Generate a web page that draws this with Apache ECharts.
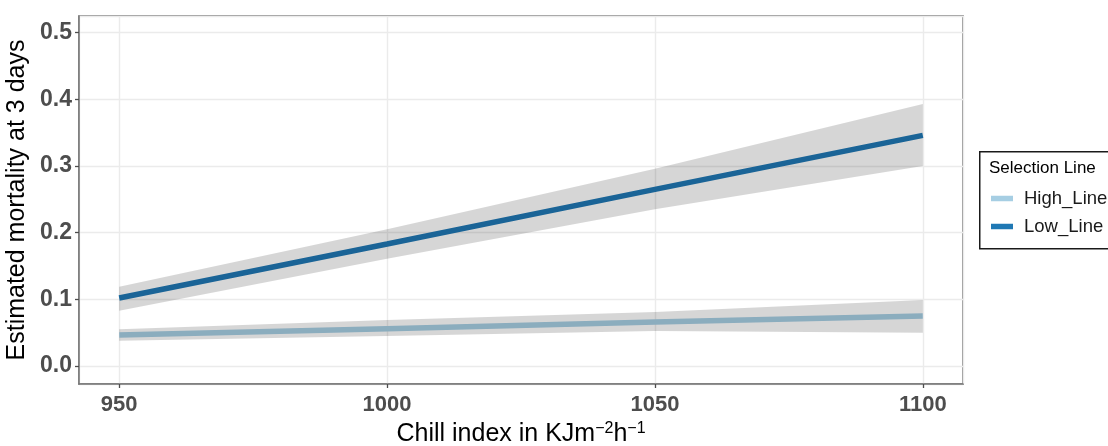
<!DOCTYPE html>
<html>
<head>
<meta charset="utf-8">
<script src="https://cdn.jsdelivr.net/npm/echarts@6/dist/echarts.min.js"></script>
<style>
  html, body { margin: 0; padding: 0; background: #fff; }
  #chart { width: 1108px; height: 446px; }
</style>
</head>
<body>
<div id="chart"></div>
<script>
// Chill index values at which the fitted mortality is shown
const chill = [950, 1000, 1050, 1100];

// Fitted mortality and confidence band, low selection line
const lowFit   = [0.102, 0.183, 0.265, 0.346];
const lowLower = [0.083, 0.161, 0.235, 0.300];
const lowUpper = [0.119, 0.205, 0.296, 0.393];

// Fitted mortality and confidence band, high selection line
const highFit   = [0.0465, 0.056, 0.066, 0.075];
const highLower = [0.038, 0.045, 0.0525, 0.050];
const highUpper = [0.055, 0.069, 0.081, 0.099];

const seriesNames = ['High_Line', 'Low_Line'];
const legendTitle = 'Selection Line';

const FONT = 'Liberation Sans, Arial, sans-serif';
const pairs = (ys) => chill.map((x, i) => [x, ys[i]]);

// Confidence ribbon drawn as one polygon: upper edge left→right, lower edge right→left
function ribbon(id, lo, hi) {
  const rows = chill.map((x, i) => [x, lo[i], hi[i]]);
  return {
    name: id + '_band', type: 'custom', silent: true, z: 5,
    data: rows,
    encode: { x: 0, y: [1, 2] },
    renderItem: (params, api) => {
      if (params.dataIndex !== 0) return null;
      const top = rows.map(r => api.coord([r[0], r[2]]));
      const bottom = rows.map(r => api.coord([r[0], r[1]])).reverse();
      return {
        type: 'polygon',
        shape: { points: top.concat(bottom) },
        style: { fill: 'rgba(0,0,0,0.16)', stroke: null }
      };
    }
  };
}

const chart = echarts.init(document.getElementById('chart'), null, { renderer: 'canvas' });

chart.setOption({
  animation: false,
  backgroundColor: '#ffffff',
  grid: {
    left: 79, right: 145, top: 16, bottom: 62,
    outerBoundsMode: 'none', containLabel: false,
    show: true, borderColor: '#737373', borderWidth: 1.5, backgroundColor: '#fff'
  },
  xAxis: {
    type: 'value', min: 942.5, max: 1107.5, splitNumber: 3,
    axisLine: { show: true, onZero: false, lineStyle: { color: '#737373', width: 1.5 } },
    axisTick: { show: true, length: 4, lineStyle: { color: '#4d4d4d', width: 1.3 } },
    axisLabel: {
      showMinLabel: false, showMaxLabel: false, margin: 10,
      color: '#4d4d4d', fontSize: 22, fontWeight: 'bold', fontFamily: FONT,
      formatter: (v) => String(v)
    },
    splitLine: { show: true, lineStyle: { color: '#ebebeb', width: 1.4 } },
    name: '{n|Chill index in KJm}{s|\u22122}{n|h}{s|\u22121}',
    nameLocation: 'middle', nameGap: 35,
    nameTextStyle: {
      color: '#000', fontFamily: FONT,
      rich: {
        n: { fontSize: 25, fontFamily: FONT, color: '#000', lineHeight: 26 },
        s: { fontSize: 16, fontFamily: FONT, color: '#000', verticalAlign: 'top', lineHeight: 10 }
      }
    }
  },
  yAxis: {
    type: 'value', min: -0.027, max: 0.525,
    axisLine: { show: true, onZero: false, lineStyle: { color: '#737373', width: 1.5 } },
    axisTick: { show: true, length: 4, lineStyle: { color: '#4d4d4d', width: 1.3 } },
    axisLabel: {
      showMinLabel: false, showMaxLabel: false, margin: 7,
      color: '#4d4d4d', fontSize: 23, fontWeight: 'bold', fontFamily: FONT,
      formatter: (v) => v.toFixed(1)
    },
    splitLine: { show: true, lineStyle: { color: '#ebebeb', width: 1.4 } },
    name: 'Estimated mortality at 3 days',
    nameLocation: 'middle', nameGap: 43,
    nameTextStyle: { color: '#000', fontSize: 25, fontFamily: FONT }
  },
  legend: {
    data: seriesNames,
    orient: 'vertical', left: 991, top: 189, padding: 0,
    itemGap: 9, itemWidth: 22, itemHeight: 5.5, icon: 'rect',
    textStyle: { fontSize: 18.5, fontFamily: FONT, color: '#1a1a1a', padding: [0, 0, 0, 6] }
  },
  graphic: [
    {
      type: 'rect', left: 979, top: 151, z: 0,
      shape: { width: 200, height: 97 },
      style: { fill: '#fff', stroke: '#1a1a1a', lineWidth: 1.5 }
    },
    {
      type: 'text', left: 989, top: 160, z: 1,
      style: { text: legendTitle, fontSize: 17, fontFamily: FONT, fill: '#000' }
    }
  ],
  series: [
    {
      name: seriesNames[0], type: 'line', data: pairs(highFit),
      symbol: 'none', color: '#a6cee3', lineStyle: { width: 5.5, color: '#a6cee3' }, z: 3
    },
    {
      name: seriesNames[1], type: 'line', data: pairs(lowFit),
      symbol: 'none', color: '#1f78b4', lineStyle: { width: 5.5, color: '#1f78b4' }, z: 3
    },
    ribbon('high', highLower, highUpper),
    ribbon('low', lowLower, lowUpper)
  ]
});
</script>
</body>
</html>
